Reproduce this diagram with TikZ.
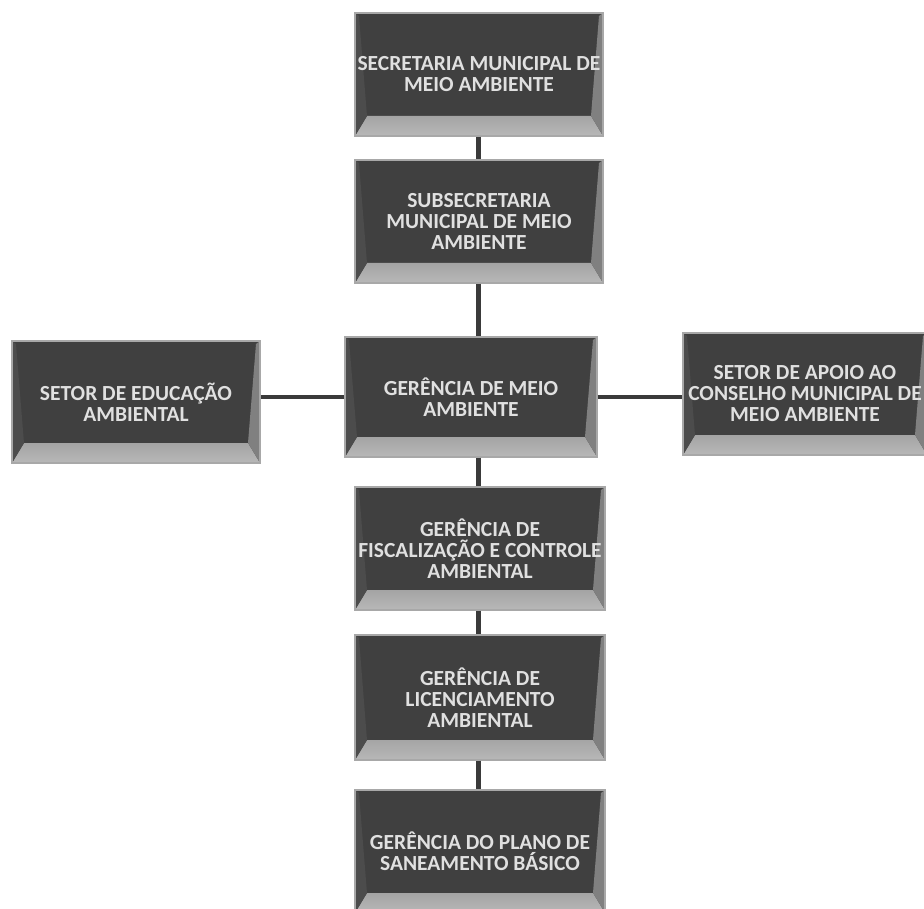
\documentclass[tikz,border=0pt]{standalone}
\usepackage{fontspec}
\setmainfont{Carlito}
\usepackage{tikz}

\definecolor{boxgray}{HTML}{404040}
\definecolor{bevlight}{HTML}{B8B8B8}
\definecolor{rimgray}{HTML}{A8A8A8}
\definecolor{linkgray}{HTML}{3A3A3A}

\tikzset{
  orgbox/.style={draw=rimgray, line width=1.4pt, fill=boxgray, text=white!88!black,
    font=\fontsize{21.5}{21}\selectfont\bfseries, align=center, inner sep=0pt,
    minimum width=#1, minimum height=123pt,
    path picture={
      \fill[top color=boxgray, bottom color=bevlight]
        (path picture bounding box.south west) -- (path picture bounding box.south east)
        -- ([xshift=-12pt,yshift=20pt]path picture bounding box.south east)
        -- ([xshift=12pt,yshift=20pt]path picture bounding box.south west) -- cycle;
      \fill[white!50!black]
        (path picture bounding box.south east) -- (path picture bounding box.north east)
        -- ([xshift=-4pt,yshift=-3pt]path picture bounding box.north east)
        -- ([xshift=-12pt,yshift=20pt]path picture bounding box.south east) -- cycle;
      \fill[white!30!black]
        (path picture bounding box.south west) -- (path picture bounding box.north west)
        -- ([xshift=4pt,yshift=-3pt]path picture bounding box.north west)
        -- ([xshift=12pt,yshift=20pt]path picture bounding box.south west) -- cycle;
    }},
  orgbox/.default=248pt,
  link/.style={draw=linkgray, line width=#1},
  link/.default=5pt
}

\begin{document}
\begin{tikzpicture}[x=1pt,y=-1pt]
    \useasboundingbox[fill=white] (0,0) rectangle (924,909);

    \node[orgbox] (SMMA) at (479, 74.5) {SECRETARIA MUNICIPAL DE\\MEIO AMBIENTE};
    \node[orgbox] (SUB) at (479, 221.5) {SUBSECRETARIA\\MUNICIPAL DE MEIO\\AMBIENTE};
    \node[orgbox=252pt, minimum height=120pt] (GMA) at (471, 397) {GERÊNCIA DE MEIO\\AMBIENTE};
    \node[orgbox, minimum height=122pt] (EDU) at (136, 402) {SETOR DE EDUCAÇÃO\\AMBIENTAL};
    \node[orgbox=244pt, minimum height=122pt] (APOIO) at (805, 394) {SETOR DE APOIO AO\\CONSELHO MUNICIPAL DE\\MEIO AMBIENTE};
    \node[orgbox=250pt] (FISC) at (480, 548.5) {GERÊNCIA DE\\FISCALIZAÇÃO E CONTROLE\\AMBIENTAL};
    \node[orgbox=250pt, minimum height=125pt] (LIC) at (480, 697.5) {GERÊNCIA DE\\LICENCIAMENTO\\AMBIENTAL};
    \node[orgbox=250pt] (SAN) at (480, 851.5) {GERÊNCIA DO PLANO DE\\SANEAMENTO BÁSICO};

    \draw[link] ([xshift=-1pt]SMMA.south) to ([xshift=-1pt]SUB.north);
    \draw[link] ([xshift=-1pt]SUB.south) to ([xshift=-1pt]SUB.south |- GMA.north);
    \draw[link] ([xshift=-1pt]SUB.south |- GMA.south) to ([xshift=-2pt]FISC.north);
    \draw[link] ([xshift=-2pt]FISC.south) to ([xshift=-2pt]LIC.north);
    \draw[link] ([xshift=-2pt]LIC.south) to ([xshift=-2pt]SAN.north);

    \draw[link=4pt] (GMA.west) to (GMA.west -| EDU.east);
    \draw[link=4pt] (GMA.east) to (GMA.east -| APOIO.west);

\end{tikzpicture}
\end{document}
